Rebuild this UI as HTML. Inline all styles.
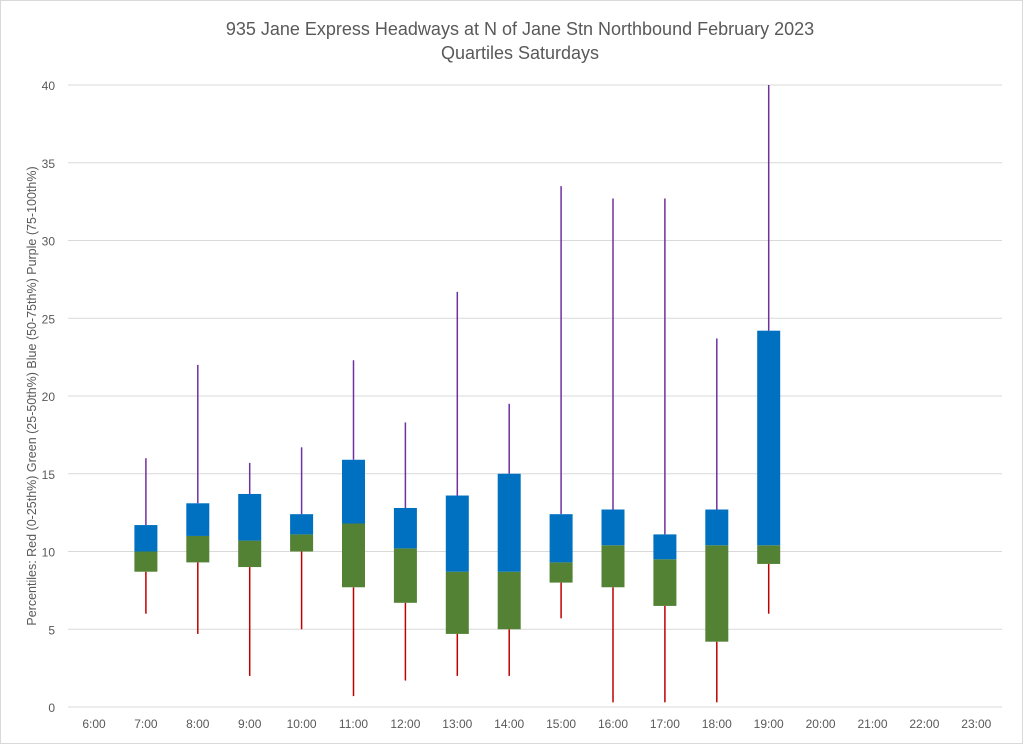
<!DOCTYPE html>
<html><head><meta charset="utf-8"><style>
body{margin:0;background:#fff;font-family:"Liberation Sans",sans-serif}
svg text{font-family:"Liberation Sans",sans-serif}
</style></head><body>
<svg id="chart" width="1024" height="745" viewBox="0 0 1024 745" xmlns="http://www.w3.org/2000/svg">
<rect x="0.5" y="0.5" width="1022" height="743" fill="#fff" stroke="#d9d9d9"/>
<text x="520" y="35" text-anchor="middle" font-size="18" fill="#595959">935 Jane Express Headways at N of Jane Stn Northbound February 2023</text>
<text x="520" y="59" text-anchor="middle" font-size="18" fill="#595959">Quartiles Saturdays</text>
<text transform="translate(36,396) rotate(-90)" text-anchor="middle" font-size="12.5" fill="#595959">Percentiles:  Red (0-25th%)  Green (25-50th%)  Blue (50-75th%)  Purple (75-100th%)</text>
<g id="grid"></g><g id="marks"></g><g id="labels"></g>
</svg>
<script>
const categories=["6:00","7:00","8:00","9:00","10:00","11:00","12:00","13:00","14:00","15:00","16:00","17:00","18:00","19:00","20:00","21:00","22:00","23:00"];
const mins=[null,6.0,4.7,2.0,5.0,0.7,1.7,2.0,2.0,5.7,0.3,0.3,0.3,6.0,null,null,null,null];
const q1s=[null,8.7,9.3,9.0,10.0,7.7,6.7,4.7,5.0,8.0,7.7,6.5,4.2,9.2,null,null,null,null];
const medians=[null,10.0,11.0,10.7,11.1,11.8,10.2,8.7,8.7,9.3,10.4,9.5,10.4,10.4,null,null,null,null];
const q3s=[null,11.7,13.1,13.7,12.4,15.9,12.8,13.6,15.0,12.4,12.7,11.1,12.7,24.2,null,null,null,null];
const maxs=[null,16.0,22.0,15.7,16.7,22.3,18.3,26.7,19.5,33.5,32.7,32.7,23.7,40.0,null,null,null,null];
const yTicks=[0,5,10,15,20,25,30,35,40];
const NS="http://www.w3.org/2000/svg";
const y=v=>707-v*(622/40);
const x=i=>94+i*51.9;
function mk(tag,attrs,parent){const e=document.createElementNS(NS,tag);for(const k in attrs)e.setAttribute(k,attrs[k]);document.getElementById(parent).appendChild(e);return e;}
yTicks.forEach(t=>{
  const l=mk("line",{x1:68,x2:1002,y1:y(t),y2:y(t),stroke:"#d9d9d9","stroke-width":1},"grid");
  
  
  const tx=mk("text",{x:55,y:y(t)+5,"text-anchor":"end","font-size":12,fill:"#595959"},"labels");
  tx.textContent=t;
  
  
});
categories.forEach((c,i)=>{
  const tx=mk("text",{x:x(i),y:728,"text-anchor":"middle","font-size":12,fill:"#595959"},"labels");
  tx.textContent=c;
  
  
  if(mins[i]==null)return;
  const cx=x(i),w=23;
  const lo=mk("line",{x1:cx,x2:cx,y1:y(mins[i]),y2:y(q1s[i]),stroke:"#c00000","stroke-width":1.5},"marks");
  
  
  const hi=mk("line",{x1:cx,x2:cx,y1:y(maxs[i]),y2:y(q3s[i]),stroke:"#7030a0","stroke-width":1.5},"marks");
  
  
  const g=mk("rect",{x:cx-w/2,width:w,y:y(medians[i]),height:y(q1s[i])-y(medians[i]),fill:"#548235"},"marks");
  
  
  const b=mk("rect",{x:cx-w/2,width:w,y:y(q3s[i]),height:y(medians[i])-y(q3s[i]),fill:"#0070c0"},"marks");
  
  
});
</script>
</body></html>
